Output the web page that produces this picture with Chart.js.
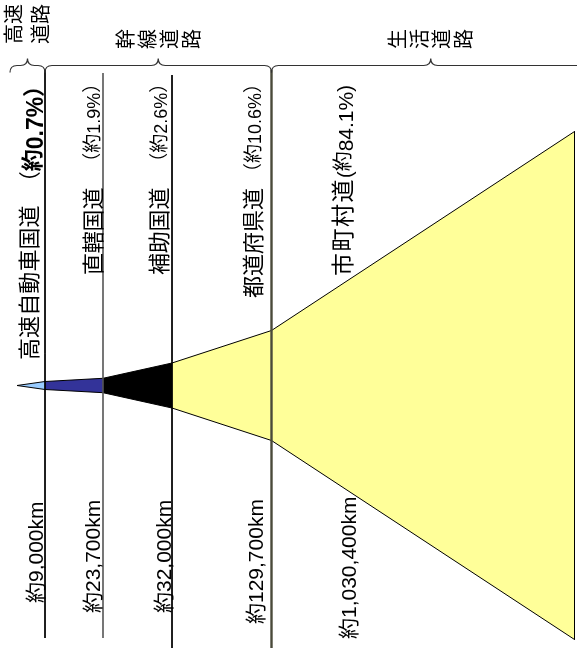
<!DOCTYPE html>
<html><head><meta charset="utf-8">
<script src="https://cdn.jsdelivr.net/npm/chart.js@4"></script>
<style>html,body{margin:0;padding:0;background:#fff}#wrap{width:577px;height:648px;position:relative}</style>
</head><body><div id="wrap"><canvas id="c" width="577" height="648"></canvas></div>
<script>
// ---------------- data ----------------
const roadTypes = ['高速自動車国道', '直轄国道', '補助国道', '都道府県道', '市町村道'];
const sharePercent = [0.7, 1.9, 2.6, 10.6, 84.1];
const lengthKm = [9000, 23700, 32000, 129700, 1030400];
const groupNames = ['高速道路', '幹線道路', '生活道路'];
const segmentColors = ['#99CCFF', '#333399', '#000000', '#FFFF99', '#FFFF99'];

// schematic funnel outline, in diagram units
const funnelTip = 17;
const stageEnd = [45, 103, 172, 271.5, 574.5];
const stageHalfWidth = [4, 7.2, 22.5, 55, 254];

// ---------------- layout ----------------
const CJK = '"Noto Sans CJK JP"';
const LAT = '"Liberation Sans", "Noto Sans CJK JP"';
const guideTop = [316, 312.5, 310.5, 316, 254];
const guideBottom = [-252.5, -252.5, -262.5, -262.5, -254];
const guideColor = ['#000', '#555', '#000', '#4a4a3a', '#000'];
const guideWidth = [1, 1.6, 1, 2.4, 1];

const xs = [funnelTip, ...stageEnd];
const hs = [0, ...stageHalfWidth];
const datasets = [];
for (let i = 0; i < roadTypes.length; i++) {
  datasets.push({
    label: roadTypes[i] + ' top', order: 2,
    data: [{x: xs[i], y: hs[i]}, {x: xs[i + 1], y: hs[i + 1]}],
    borderColor: '#000', borderWidth: 1, pointRadius: 0, fill: false, tension: 0
  });
  datasets.push({
    label: roadTypes[i], order: 2,
    data: [{x: xs[i], y: -hs[i]}, {x: xs[i + 1], y: -hs[i + 1]}],
    borderColor: '#000', borderWidth: 1, pointRadius: 0, tension: 0,
    fill: '-1', backgroundColor: segmentColors[i]
  });
}
for (let i = 0; i < stageEnd.length; i++) {
  datasets.push({
    label: 'guide' + i, order: 0,
    data: [{x: stageEnd[i], y: guideTop[i]}, {x: stageEnd[i], y: guideBottom[i]}],
    borderColor: guideColor[i], borderWidth: guideWidth[i], pointRadius: 0, fill: false
  });
}

// text runs (rotated -90deg, reading bottom to top)
const fmtKm = v => '約' + v.toLocaleString('en-US') + 'km';
const nameLabels = [
  {y: 360, runs: [
    {t: roadTypes[0], f: '22px ' + CJK, bx: 37, pitch: 22.1},
    {gap: 12, t: '（', f: '22px ' + CJK, bx: 37},
    {t: '約', f: 'bold 22px ' + CJK, bx: 40},
    {t: sharePercent[0] + '%', f: 'bold 23px ' + LAT, bx: 43},
    {t: '）', f: 'bold 22px ' + CJK, bx: 41}]},
  {y: 275, runs: [
    {t: roadTypes[1], f: '22px ' + CJK, bx: 101, pitch: 21.8},
    {gap: 16, t: '（', f: '19px ' + CJK, bx: 99},
    {t: '約', f: '19px ' + CJK, bx: 99},
    {t: sharePercent[1] + '%', f: '18px ' + LAT, bx: 100},
    {t: '）', f: '19px ' + CJK, bx: 99}]},
  {y: 275, runs: [
    {t: roadTypes[2], f: '22px ' + CJK, bx: 167, pitch: 21.8},
    {gap: 16, t: '（', f: '19px ' + CJK, bx: 166},
    {t: '約', f: '19px ' + CJK, bx: 166},
    {t: sharePercent[2] + '%', f: '18px ' + LAT, bx: 167},
    {t: '）', f: '19px ' + CJK, bx: 166}]},
  {y: 298, runs: [
    {t: roadTypes[3], f: '22px ' + CJK, bx: 261, pitch: 22},
    {gap: 6, t: '（', f: '19px ' + CJK, bx: 260},
    {t: '約', f: '19px ' + CJK, bx: 260},
    {t: sharePercent[3] + '%', f: '18px ' + LAT, bx: 261},
    {t: '）', f: '19px ' + CJK, bx: 260}]},
  {y: 276, runs: [
    {t: roadTypes[4], f: '23px ' + CJK, bx: 351, pitch: 24.5},
    {t: '(', f: '20px ' + LAT, bx: 352},
    {t: '約', f: '20px ' + CJK, bx: 350},
    {t: sharePercent[4] + '%', f: '21px ' + LAT, bx: 353},
    {t: ')', f: '20px ' + LAT, bx: 352}]}
];
const kmLabels = [
  {y: 603, bx: 43}, {y: 613, bx: 100}, {y: 613, bx: 171}, {y: 624, bx: 263}, {y: 639, bx: 356}
];

function drawRuns(ctx, startY, runs) {
  let y = startY;
  for (const r of runs) {
    y -= (r.gap || 0);
    ctx.save();
    ctx.font = r.f;
    ctx.fillStyle = '#000';
    ctx.textAlign = 'left';
    ctx.textBaseline = 'alphabetic';
    if (r.pitch) {
      const chars = Array.from(r.t);
      chars.forEach((ch, k) => {
        ctx.save();
        ctx.translate(r.bx, y - k * r.pitch);
        ctx.rotate(-Math.PI / 2);
        ctx.fillText(ch, 0, 0);
        ctx.restore();
      });
      y -= chars.length * r.pitch;
    } else {
      ctx.translate(r.bx, y);
      ctx.rotate(-Math.PI / 2);
      ctx.fillText(r.t, 0, 0);
      y -= ctx.measureText(r.t).width;
    }
    ctx.restore();
  }
}

function brace(ctx, x0, x1, yLine, yEnd, yTip) {
  const xm = (x0 + x1) / 2, r = 7;
  ctx.beginPath();
  ctx.moveTo(x0, yEnd);
  ctx.quadraticCurveTo(x0, yLine, x0 + r, yLine);
  ctx.lineTo(xm - r, yLine);
  ctx.quadraticCurveTo(xm, yLine, xm, yTip);
  ctx.quadraticCurveTo(xm, yLine, xm + r, yLine);
  ctx.lineTo(x1 - r, yLine);
  ctx.quadraticCurveTo(x1, yLine, x1, yEnd);
  ctx.stroke();
}

const annotate = {
  id: 'annotate',
  afterDraw(chart) {
    const ctx = chart.ctx;
    const xS = chart.scales.x, yS = chart.scales.y;
    // braces
    ctx.save();
    ctx.strokeStyle = '#333';
    ctx.lineWidth = 1.2;
    const bounds = [[10, stageEnd[0]], [stageEnd[0], stageEnd[3]], [stageEnd[3], 590]];
    const yLine = yS.getPixelForValue(320), yEnd = yS.getPixelForValue(313), yTip = yS.getPixelForValue(327);
    bounds.forEach(([a, b]) => brace(ctx, xS.getPixelForValue(a), xS.getPixelForValue(b), yLine, yEnd, yTip));
    ctx.restore();
    // group labels
    ctx.save();
    ctx.fillStyle = '#000';
    ctx.font = '20px ' + CJK;
    ctx.textAlign = 'center';
    ctx.textBaseline = 'middle';
    // 高速道路 : two rotated lines
    const g0 = Array.from(groupNames[0]);
    [[g0.slice(0, 2).join(''), 13], [g0.slice(2).join(''), 40]].forEach(([s, cx]) => {
      ctx.save(); ctx.translate(cx, 24); ctx.rotate(-Math.PI / 2); ctx.fillText(s, 0, 0); ctx.restore();
    });
    // 幹線道路, 生活道路 : characters stacked along the brace
    [[groupNames[1], (xS.getPixelForValue(bounds[1][0]) + xS.getPixelForValue(bounds[1][1])) / 2],
     [groupNames[2], (xS.getPixelForValue(bounds[2][0]) + xS.getPixelForValue(bounds[2][1])) / 2]].forEach(([s, cx]) => {
      const chars = Array.from(s);
      chars.forEach((ch, k) => {
        ctx.save();
        ctx.translate(cx + (k - (chars.length - 1) / 2) * 22, 39);
        ctx.rotate(-Math.PI / 2);
        ctx.fillText(ch, 0, 0);
        ctx.restore();
      });
    });
    ctx.restore();
    // name labels
    nameLabels.forEach(l => drawRuns(ctx, l.y, l.runs));
    // km labels
    kmLabels.forEach((l, i) => drawRuns(ctx, l.y, [{t: fmtKm(lengthKm[i]), f: '21px ' + LAT, bx: l.bx}]));
  }
};

new Chart(document.getElementById('c'), {
  type: 'line',
  data: {datasets},
  options: {
    responsive: false,
    animation: false,
    events: [],
    layout: {padding: 0},
    plugins: {legend: {display: false}, tooltip: {enabled: false}, title: {display: false}},
    scales: {
      x: {type: 'linear', min: 0, max: 577, display: false},
      y: {type: 'linear', min: -262.5, max: 385.5, display: false}
    }
  },
  plugins: [annotate]
});
</script>
</body></html>
